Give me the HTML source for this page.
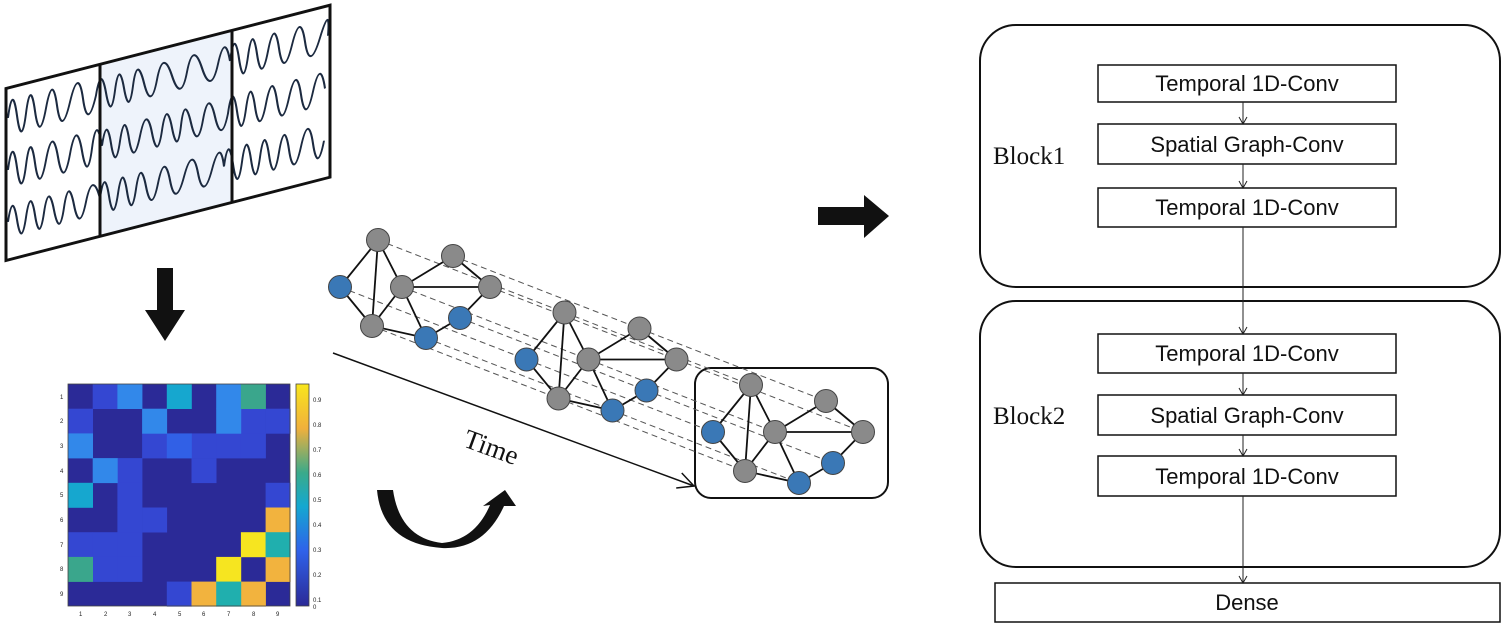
<!DOCTYPE html>
<html><head><meta charset="utf-8"><style>
html,body{margin:0;padding:0;background:#fff;}
svg{display:block;}
.bx{font-family:"Liberation Sans",sans-serif;font-size:22px;}
</style></head><body>
<svg width="1505" height="639" viewBox="0 0 1505 639" xmlns="http://www.w3.org/2000/svg">
<defs>
<marker id="sa" markerWidth="10" markerHeight="10" refX="8" refY="5" orient="auto" markerUnits="userSpaceOnUse">
<path d="M1,1 L8,5 L1,9" fill="none" stroke="#222" stroke-width="1"/></marker>
<marker id="ta" markerWidth="24" markerHeight="24" refX="20" refY="12" orient="auto" markerUnits="userSpaceOnUse">
<path d="M4,4 L20,12 L4,20" fill="none" stroke="#111" stroke-width="1.5"/></marker>
<linearGradient id="cb" x1="0" y1="1" x2="0" y2="0">
<stop offset="0" stop-color="#2b2a97"/><stop offset="0.25" stop-color="#2f62ea"/><stop offset="0.45" stop-color="#14a8d0"/><stop offset="0.6" stop-color="#3aaa8a"/><stop offset="0.8" stop-color="#f0b03c"/><stop offset="1" stop-color="#f8e61c"/></linearGradient>
<g id="gr">
<g stroke="#111" stroke-width="1.8">
<line x1="378" y1="240" x2="340" y2="287"/>
<line x1="378" y1="240" x2="372" y2="326"/>
<line x1="378" y1="240" x2="402" y2="287"/>
<line x1="402" y1="287" x2="453" y2="256"/>
<line x1="402" y1="287" x2="490" y2="287"/>
<line x1="453" y1="256" x2="490" y2="287"/>
<line x1="402" y1="287" x2="372" y2="326"/>
<line x1="402" y1="287" x2="426" y2="338"/>
<line x1="340" y1="287" x2="372" y2="326"/>
<line x1="372" y1="326" x2="426" y2="338"/>
<line x1="426" y1="338" x2="460" y2="318"/>
<line x1="460" y1="318" x2="490" y2="287"/>
</g>
<g stroke="#444" stroke-width="1">
<circle cx="378" cy="240" r="11.5" fill="#8a8a8a"/>
<circle cx="453" cy="256" r="11.5" fill="#8a8a8a"/>
<circle cx="340" cy="287" r="11.5" fill="#3a78b6"/>
<circle cx="402" cy="287" r="11.5" fill="#8a8a8a"/>
<circle cx="490" cy="287" r="11.5" fill="#8a8a8a"/>
<circle cx="372" cy="326" r="11.5" fill="#8a8a8a"/>
<circle cx="460" cy="318" r="11.5" fill="#3a78b6"/>
<circle cx="426" cy="338" r="11.5" fill="#3a78b6"/>
</g>
</g>
</defs>

<!-- EEG panel -->
<g transform="matrix(1,-0.257,0,1,0,0)">
<rect x="100" y="90" width="132" height="172" fill="#eef3fb"/>
<g fill="none" stroke="#1c2a40" stroke-width="2">
<path d="M8,120 q4.5,-34 9,0 t9,0 t9,0 t11,0 t11,0 t13,0 t13,0 t13,0 q5,-30 10,0 t9,0 t9,0 t9,0 t11,0 t13,0 t15,0 t15,0 t15,0 t16,0 t12,0 q4.5,-32 9,0 t9,0 t9,0 t11,0 t11,0 t13,0 t13,0 t15,0 t8,0"/>
<path d="M8,172 q4.5,-34 9,0 t9,0 t9,0 t11,0 t12,0 t12,0 t12,0 t10,0 t10,0 q4.5,-30 9,0 t9,0 t9,0 t11,0 t12,0 t10,0 t10,0 t9,0 t10,0 t12,0 t12,0 t13,0 q4.5,-32 9,0 t9,0 t9,0 t11,0 t11,0 t12,0 t12,0 t12,0 t12,0"/>
<path d="M8,224 q4.5,-30 9,0 t9,0 t9,0 t9,0 t10,0 t10,0 t10,0 t12,0 t14,0 q4.5,-30 9,0 t9,0 t9,0 t9,0 t10,0 t12,0 t12,0 t14,0 t14,0 t14,0 t12,0 q4.5,-32 9,0 t9,0 t9,0 t9,0 t9,0 t10,0 t10,0 t12,0 t12,0 t11,0"/>
</g>
<rect x="6" y="90" width="324" height="172" fill="none" stroke="#111" stroke-width="3"/>
<line x1="100" y1="90" x2="100" y2="262" stroke="#111" stroke-width="3"/>
<line x1="232" y1="90" x2="232" y2="262" stroke="#111" stroke-width="3"/>
</g>

<!-- down arrow -->
<rect x="157" y="268" width="16" height="44" fill="#111"/>
<polygon points="145,310 185,310 165,341" fill="#111"/>

<!-- heatmap -->
<g transform="translate(68,384)">
<rect x="0" y="0" width="222" height="222" fill="#2b2a97"/>
<g fill="#3447d2">
<rect x="24.7" y="0" width="25" height="25"/>
<rect x="0" y="24.7" width="25" height="25"/><rect x="172.9" y="24.7" width="25" height="25"/><rect x="197.6" y="24.7" width="25" height="25"/>
<rect x="74.1" y="49.4" width="25" height="25"/><rect x="123.5" y="49.4" width="25" height="25"/><rect x="148.2" y="49.4" width="25" height="25"/><rect x="172.9" y="49.4" width="25" height="25"/>
<rect x="49.4" y="74.1" width="25" height="25"/><rect x="123.5" y="74.1" width="25" height="25"/>
<rect x="49.4" y="98.8" width="25" height="25"/><rect x="197.6" y="98.8" width="25" height="25"/>
<rect x="49.4" y="123.5" width="25" height="25"/><rect x="74.1" y="123.5" width="25" height="25"/>
<rect x="0" y="148.2" width="25" height="25"/><rect x="24.7" y="148.2" width="25" height="25"/><rect x="49.4" y="148.2" width="25" height="25"/>
<rect x="24.7" y="172.9" width="25" height="25"/><rect x="49.4" y="172.9" width="25" height="25"/>
<rect x="98.8" y="197.6" width="25" height="25"/>
</g>
<g fill="#3288ea">
<rect x="49.4" y="0" width="25" height="25"/><rect x="148.2" y="0" width="25" height="25"/>
<rect x="74.1" y="24.7" width="25" height="25"/><rect x="148.2" y="24.7" width="25" height="25"/>
<rect x="0" y="49.4" width="25" height="25"/>
<rect x="24.7" y="74.1" width="25" height="25"/>
</g>
<rect x="98.8" y="49.4" width="25" height="25" fill="#3160e6"/>
<g fill="#16a7cf"><rect x="98.8" y="0" width="25" height="25"/><rect x="0" y="98.8" width="25" height="25"/></g>
<g fill="#3aa68c"><rect x="172.9" y="0" width="25" height="25"/><rect x="0" y="172.9" width="25" height="25"/></g>
<g fill="#f2b33e"><rect x="197.6" y="123.5" width="25" height="25"/><rect x="197.6" y="172.9" width="25" height="25"/><rect x="123.5" y="197.6" width="25" height="25"/><rect x="172.9" y="197.6" width="25" height="25"/></g>
<g fill="#f6e520"><rect x="172.9" y="148.2" width="25" height="25"/><rect x="148.2" y="172.9" width="25" height="25"/></g>
<g fill="#20afae"><rect x="197.6" y="148.2" width="25" height="25"/><rect x="148.2" y="197.6" width="25" height="25"/></g>
</g>
<rect x="68" y="384" width="222" height="222" fill="none" stroke="#444" stroke-width="0.8"/>
<rect x="296" y="384" width="13" height="222" fill="url(#cb)" stroke="#444" stroke-width="0.8"/>
<g font-family="Liberation Sans,sans-serif" font-size="6" fill="#222">
<text x="313" y="402">0.9</text><text x="313" y="427">0.8</text><text x="313" y="452">0.7</text><text x="313" y="477">0.6</text><text x="313" y="502">0.5</text><text x="313" y="527">0.4</text><text x="313" y="552">0.3</text><text x="313" y="577">0.2</text><text x="313" y="602">0.1</text><text x="313" y="609">0</text>
<text x="60" y="399">1</text><text x="60" y="423">2</text><text x="60" y="448">3</text><text x="60" y="473">4</text><text x="60" y="497">5</text><text x="60" y="522">6</text><text x="60" y="547">7</text><text x="60" y="571">8</text><text x="60" y="596">9</text>
<text x="79" y="616">1</text><text x="104" y="616">2</text><text x="128" y="616">3</text><text x="153" y="616">4</text><text x="178" y="616">5</text><text x="202" y="616">6</text><text x="227" y="616">7</text><text x="252" y="616">8</text><text x="276" y="616">9</text>
</g>

<!-- curved arrow -->
<path d="M377,490 L393,490 Q400,538 442,543 Q475,540 490,505 L483,506 L505,490 L516,506 L504,506 Q484,550 442,548 Q382,544 377,490 Z" fill="#111"/>

<!-- time arrow -->
<line x1="333" y1="353" x2="694" y2="486" stroke="#111" stroke-width="1.5" marker-end="url(#ta)"/>
<text x="0" y="0" transform="translate(462,446) rotate(20)" font-family="Liberation Serif,serif" font-size="27" fill="#111">Time</text>

<!-- graph3 box -->
<rect x="695" y="368" width="193" height="130" rx="16" fill="#fff" stroke="#111" stroke-width="2"/>

<!-- dashed lines -->
<g stroke="#555" stroke-width="1" stroke-dasharray="6,4">
<line x1="378" y1="240" x2="751" y2="385"/>
<line x1="453" y1="256" x2="826" y2="401"/>
<line x1="340" y1="287" x2="713" y2="432"/>
<line x1="402" y1="287" x2="775" y2="432"/>
<line x1="490" y1="287" x2="863" y2="432"/>
<line x1="372" y1="326" x2="745" y2="471"/>
<line x1="460" y1="318" x2="833" y2="463"/>
<line x1="426" y1="338" x2="799" y2="483"/>
</g>
<use href="#gr"/>
<use href="#gr" transform="translate(186.5,72.5)"/>
<use href="#gr" transform="translate(373,145)"/>

<!-- right arrow -->
<rect x="818" y="207" width="48" height="18" fill="#111"/>
<polygon points="864,195 889,216 864,238" fill="#111"/>

<!-- blocks -->
<rect x="980" y="25" width="520" height="262" rx="36" fill="none" stroke="#111" stroke-width="2"/>
<rect x="980" y="301" width="520" height="266" rx="36" fill="none" stroke="#111" stroke-width="2"/>
<g fill="none" stroke="#111" stroke-width="1.5">
<rect x="1098" y="65" width="298" height="37"/>
<rect x="1098" y="124" width="298" height="40"/>
<rect x="1098" y="188" width="298" height="39"/>
<rect x="1098" y="334" width="298" height="39"/>
<rect x="1098" y="395" width="298" height="40"/>
<rect x="1098" y="456" width="298" height="40"/>
<rect x="995" y="583" width="505" height="39"/>
</g>
<g stroke="#222" stroke-width="1" marker-end="url(#sa)">
<line x1="1243" y1="102" x2="1243" y2="124"/>
<line x1="1243" y1="164" x2="1243" y2="188"/>
<line x1="1243" y1="227" x2="1243" y2="334"/>
<line x1="1243" y1="373" x2="1243" y2="395"/>
<line x1="1243" y1="435" x2="1243" y2="456"/>
<line x1="1243" y1="496" x2="1243" y2="583"/>
</g>
<g class="bx" text-anchor="middle" fill="#111">
<text x="1247" y="91">Temporal 1D-Conv</text>
<text x="1247" y="152">Spatial Graph-Conv</text>
<text x="1247" y="215">Temporal 1D-Conv</text>
<text x="1247" y="361">Temporal 1D-Conv</text>
<text x="1247" y="423">Spatial Graph-Conv</text>
<text x="1247" y="484">Temporal 1D-Conv</text>
<text x="1247" y="610">Dense</text>
</g>
<g font-family="Liberation Serif,serif" font-size="25" fill="#111">
<text x="993" y="164">Block1</text>
<text x="993" y="424">Block2</text>
</g>
</svg>
</body></html>
